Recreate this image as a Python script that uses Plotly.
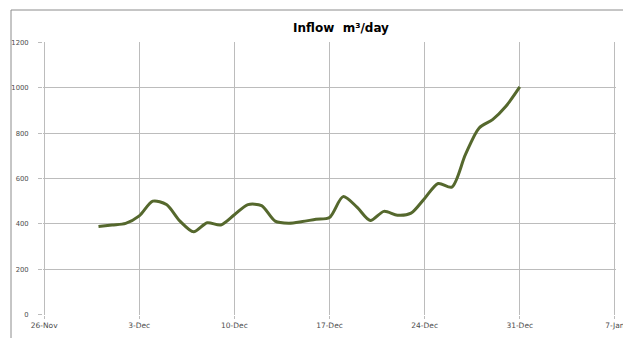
import plotly.graph_objects as go

dates = ["2012-11-30", "2012-12-01", "2012-12-02", "2012-12-03", "2012-12-04", "2012-12-05",
         "2012-12-06", "2012-12-07", "2012-12-08", "2012-12-09", "2012-12-10", "2012-12-11",
         "2012-12-12", "2012-12-13", "2012-12-14", "2012-12-15", "2012-12-16", "2012-12-17",
         "2012-12-18", "2012-12-19", "2012-12-20", "2012-12-21", "2012-12-22", "2012-12-23",
         "2012-12-24", "2012-12-25", "2012-12-26", "2012-12-27", "2012-12-28", "2012-12-29",
         "2012-12-30", "2012-12-31"]
inflow = [388, 395, 402, 435, 500, 485, 412, 365, 405, 395, 440, 485,
          480, 412, 403, 410, 420, 428, 520, 475, 415, 455, 438, 447,
          512, 578, 562, 705, 822, 860, 920, 1004]
x_ticks = ["2012-11-26", "2012-12-03", "2012-12-10", "2012-12-17", "2012-12-24",
           "2012-12-31", "2013-01-07"]
x_tick_labels = ["26-Nov", "3-Dec", "10-Dec", "17-Dec", "24-Dec", "31-Dec", "7-Jan"]
y_ticks = [0, 200, 400, 600, 800, 1000, 1200]

fig = go.Figure()
fig.add_trace(go.Scatter(
    x=dates, y=inflow, mode="lines",
    line=dict(color="#55682d", width=3, shape="spline", smoothing=0.8),
    showlegend=False, hoverinfo="skip",
))

grid = "#bcbcbc"
fig.update_layout(
    width=623, height=338,
    margin=dict(l=43, r=7, t=42, b=23, autoexpand=False),
    paper_bgcolor="white", plot_bgcolor="white",
    title=dict(text="Inflow\u00a0 m³/day", x=341 / 623, xanchor="center",
               y=1 - 28 / 338, yanchor="middle", automargin=False,
               font=dict(family="DejaVu Sans", size=12, color="#000000", weight="bold")),
    xaxis=dict(
        type="date", range=["2012-11-25 22:00", "2013-01-07 02:00"],
        tickmode="array", tickvals=x_ticks, ticktext=x_tick_labels,
        showgrid=True, gridcolor=grid, gridwidth=1, zeroline=False, showline=False,
        ticks="outside", ticklen=3, tickcolor=grid, automargin=False,
        ticklabeloverflow="allow",
        tickfont=dict(family="DejaVu Sans", size=7.5, color="#4d4d4d"),
    ),
    yaxis=dict(
        range=[-2, 1202], tickmode="array", tickvals=y_ticks,
        showgrid=True, gridcolor=grid, gridwidth=1, zeroline=False, showline=False,
        ticks="outside", ticklen=4, tickcolor=grid, automargin=False,
        ticklabelstandoff=8,
        tickfont=dict(family="DejaVu Sans", size=6.8, color="#4d4d4d"),
    ),
    shapes=[dict(type="rect", xref="paper", yref="paper",
                 x0=(11 - 43) / 573, x1=1.2, y0=-0.3, y1=(315 - 10) / 273,
                 line=dict(color="#8c8c8c", width=1), fillcolor="rgba(0,0,0,0)",
                 layer="below")],
)

fig.write_html("out.html")
